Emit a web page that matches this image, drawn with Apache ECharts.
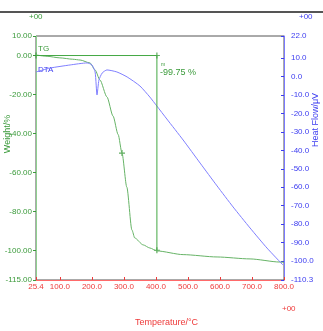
<!DOCTYPE html>
<html><head><meta charset="utf-8">
<script src="https://cdn.jsdelivr.net/npm/echarts@6/dist/echarts.min.js"></script>
<style>html,body{margin:0;padding:0;background:#fff}#c{width:323px;height:331px}</style>
</head><body><div id="c"></div>
<script>
// TG (weight %) vs temperature
var tgTemp   = [25.4, 60, 100, 140, 163, 194, 210, 225, 247, 266, 282, 294, 309, 325, 334, 360, 381, 403, 485, 591, 694, 787, 800];
var tgWeight = [0.3, -0.4, -1.2, -1.9, -2.3, -3.8, -7.4, -12.5, -21.2, -31.0, -40.5, -50, -67.4, -89.4, -93.5, -97, -98.6, -100.1, -102, -103.2, -104.2, -105.8, -106];
// DTA (heat flow uV) vs temperature
var dtaTemp  = [25.4, 69, 132, 185, 200, 210, 216, 222, 232, 247, 278, 310, 350, 381, 403, 434, 485, 538, 591, 641, 694, 747, 797];
var dtaHeat  = [2.5, 4.6, 6.3, 7.4, 6.3, 2.5, -10, -1.9, 1.9, 3.6, 2.5, -0.2, -5.1, -11.1, -16, -23, -34.4, -46.9, -59.3, -70.7, -82.1, -93, -102.2];
// analysis marker (step)
var markTemp = [25.4, 403, 403];
var markWeight = [0, 0, -99.75];
var crossTemp = [25.4, 403, 294, 403];
var crossWeight = [0, 0, -50, -99.75];
var stepLabel = '-99.75 %';
// axis ticks
var xTicks = [25.4, 100, 200, 300, 400, 500, 600, 700, 800];
var leftTicks = [10, 0, -20, -40, -60, -80, -100, -115];
var rightTicks = [22, 10, 0, -10, -20, -30, -40, -50, -60, -70, -80, -90, -100, -110.3];

var F = "'Liberation Sans Narrow','Liberation Sans',Arial,sans-serif";
var G = '#3a9a3a', B = '#3c3cf0', R = '#ee3a3a';
function zip(a, b) { return a.map(function (v, i) { return [v, b[i]]; }); }
var cross = 'path://M4,0H6V4H10V6H6V10H4V6H0V4H4Z';

var chart = echarts.init(document.getElementById('c'), null, {renderer: 'canvas'});
chart.setOption({
  animation: false,
  grid: {left: 36, right: 39, top: 36, bottom: 51, show: true, borderColor: '#555', borderWidth: 1},
  xAxis: {
    type: 'value', min: 25.4, max: 800,
    axisLine: {onZero: false, lineStyle: {color: '#ff6a6a'}},
    axisTick: {inside: true, length: 3, customValues: xTicks, lineStyle: {color: R}},
    axisLabel: {customValues: xTicks, color: R, fontSize: 8, fontFamily: F, margin: 3,
      formatter: function (v) { return v.toFixed(1); }},
    splitLine: {show: false}
  },
  yAxis: [{
    type: 'value', min: -115, max: 10, position: 'left',
    axisLine: {show: true, onZero: false, lineStyle: {color: '#8fd08f'}},
    axisTick: {show: true, length: 3, customValues: leftTicks, lineStyle: {color: G}},
    axisLabel: {customValues: leftTicks, color: G, fontSize: 8, fontFamily: F, margin: 4,
      formatter: function (v) { return v.toFixed(2); }},
    splitLine: {show: false}
  }, {
    type: 'value', min: -110.3, max: 22, position: 'right',
    axisLine: {show: true, onZero: false, lineStyle: {color: '#7a7aff'}},
    axisTick: {show: true, inside: true, length: 3, customValues: rightTicks, lineStyle: {color: B}},
    axisLabel: {customValues: rightTicks, color: B, fontSize: 8, fontFamily: F, margin: 7,
      formatter: function (v) { return v.toFixed(1); }},
    splitLine: {show: false}
  }],
  series: [{
    type: 'line', name: 'TG', yAxisIndex: 0, data: zip(tgTemp, tgWeight),
    showSymbol: false, symbol: 'none', smooth: 0.25, smoothMonotone: 'x',
    lineStyle: {color: '#66b366', width: 1}
  }, {
    type: 'line', name: 'DTA', yAxisIndex: 1, data: zip(dtaTemp, dtaHeat),
    showSymbol: false, symbol: 'none', smooth: 0.2,
    lineStyle: {color: '#7f7fff', width: 1}
  }, {
    type: 'line', name: 'mark', yAxisIndex: 0, data: zip(markTemp, markWeight),
    symbol: 'none', lineStyle: {color: '#44a844', width: 1}
  }, {
    type: 'scatter', yAxisIndex: 0, data: zip(crossTemp, crossWeight),
    symbol: cross, symbolSize: 6, itemStyle: {color: G}
  }],
  graphic: [
    {type: 'rect', left: 0, top: 11, shape: {width: 323, height: 2}, style: {fill: '#555'}},
    {type: 'text', left: 29, top: 13, style: {text: '+00', fill: G, font: '8px ' + F}},
    {type: 'text', left: 299, top: 13, style: {text: '+00', fill: B, font: '8px ' + F}},
    {type: 'text', left: 282, top: 305, style: {text: '+00', fill: R, font: '8px ' + F}},
    {type: 'text', left: 135, top: 318, style: {text: 'Temperature/\u00b0C', fill: R, font: '9px ' + F}},
    {type: 'text', x: 8, y: 134, rotation: Math.PI / 2, style: {text: 'Weight/%', fill: G, font: '9px ' + F, align: 'center', verticalAlign: 'middle'}},
    {type: 'text', x: 316, y: 120, rotation: Math.PI / 2, style: {text: 'Heat Flow/\u03bcV', fill: B, font: '9px ' + F, align: 'center', verticalAlign: 'middle'}},
    {type: 'text', left: 38, top: 45, style: {text: 'TG', fill: G, font: '8px ' + F}},
    {type: 'text', left: 38, top: 66, style: {text: 'DTA', fill: B, font: '8px ' + F}},
    {type: 'text', left: 161, top: 62, style: {text: 'm', fill: G, font: '5px ' + F}},
    {type: 'text', left: 160, top: 68, style: {text: stepLabel, fill: G, font: '9px ' + F}}
  ]
});
</script></body></html>
